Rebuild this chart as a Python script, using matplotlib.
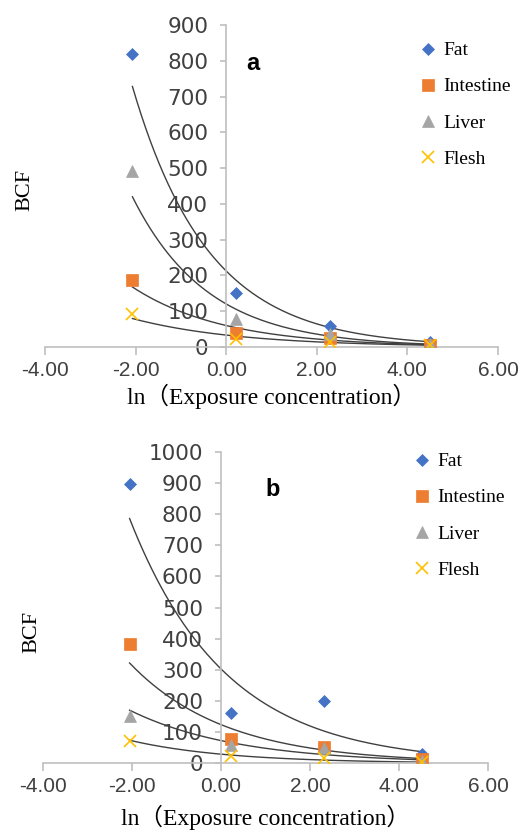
import matplotlib.pyplot as plt
import numpy as np

# ln(exposure concentration)
x_a = [-2.07, 0.21, 2.30, 4.50]
x_b = [-2.05, 0.22, 2.31, 4.51]

series = ["Fat", "Intestine", "Liver", "Flesh"]

# BCF, panel a
fat_a = [819, 151, 58, 15]
intestine_a = [187, 40, 25, 6]
liver_a = [491, 77, 35, 8]
flesh_a = [93, 22, 15, 5]

# BCF, panel b
fat_b = [895, 160, 200, 29]
intestine_b = [382, 77, 53, 15]
liver_b = [152, 59, 50, 8]
flesh_b = [70, 23, 16, 3]

x_ticks = [-4, -2, 0, 2, 4, 6]

colors = ["#4472C4", "#ED7D31", "#A5A5A5", "#FFC000"]
markers = ["D", "s", "^", "x"]
sizes = [6, 8, 8, 9]

axis_grey = "#BFBFBF"
text_grey = "#404040"
serif = ["Liberation Serif", "Noto Sans CJK SC"]
sans = ["Liberation Sans", "DejaVu Sans"]

fig = plt.figure(figsize=(5.26, 8.32), dpi=100)


def draw_panel(rect, xs, data, ymax, ystep, letter, letter_pos, leg_pos, ylab_pos, xlab_pad):
    ax = fig.add_axes(rect)
    for vals, name, c, m, s in zip(data, series, colors, markers, sizes):
        ax.plot(xs, vals, linestyle="none", marker=m, color=c, markersize=s,
                markeredgewidth=1.2 if m == "x" else 0.5, label=name, zorder=3)
    # exponential trendlines (Excel style)
    for vals in data:
        b, lna = np.polyfit(xs, np.log(vals), 1)
        xx = np.linspace(xs[0], xs[-1], 200)
        ax.plot(xx, np.exp(lna + b * xx), color="#404040", lw=1.0, zorder=2)

    ax.set_xlim(-4, 6)
    ax.set_ylim(0, ymax)
    ax.set_xticks(x_ticks)
    ax.set_xticklabels([f"{t:.2f}" for t in x_ticks], fontfamily=sans)
    ax.set_yticks(np.arange(0, ymax + 1, ystep))
    ax.set_yticklabels([str(v) for v in np.arange(0, ymax + 1, ystep)], fontfamily=sans)

    ax.spines["left"].set_position(("data", 0))
    ax.spines["right"].set_visible(False)
    ax.spines["top"].set_visible(False)
    for sp in ("left", "bottom"):
        ax.spines[sp].set_color(axis_grey)
        ax.spines[sp].set_linewidth(1.2)
    ax.tick_params(axis="x", direction="out", length=6, width=1.2, color=axis_grey,
                   labelsize=15, labelcolor=text_grey, pad=4)
    ax.tick_params(axis="y", direction="out", length=4, width=1.2, color=axis_grey,
                   labelsize=15.5, labelcolor=text_grey, pad=9)

    fig.text(letter_pos[0], letter_pos[1], letter,
             fontsize=17, fontweight="bold", fontfamily=sans, ha="center", va="center")
    fig.text(ylab_pos[0], ylab_pos[1], "BCF", rotation=90, fontsize=16,
             fontfamily=serif, ha="center", va="center")
    ax.set_xlabel("ln（Exposure concentration）", fontsize=17, fontfamily=serif,
                  labelpad=xlab_pad)
    ax.legend(loc="upper left", bbox_to_anchor=leg_pos, bbox_transform=fig.transFigure,
              frameon=False, prop={"family": serif, "size": 14}, labelspacing=0.95,
              handletextpad=0.3, handlelength=1.0, borderaxespad=0)
    return ax


draw_panel([45 / 526, 1 - 347 / 832, 453 / 526, 322 / 832], x_a,
           [fat_a, intestine_a, liver_a, flesh_a], 900, 100, "a",
           (253 / 526, 1 - 64 / 832), (410 / 526, 1 - 34 / 832),
           (25 / 526, 1 - 190 / 832), 3)

draw_panel([42.7 / 526, 1 - 763.3 / 832, 445.6 / 526, 311.6 / 832], x_b,
           [fat_b, intestine_b, liver_b, flesh_b], 1000, 100, "b",
           (273 / 526, 1 - 490 / 832), (404 / 526, 1 - 445 / 832),
           (32 / 526, 1 - 632 / 832), 6)

fig.savefig("out.png", dpi=100)
